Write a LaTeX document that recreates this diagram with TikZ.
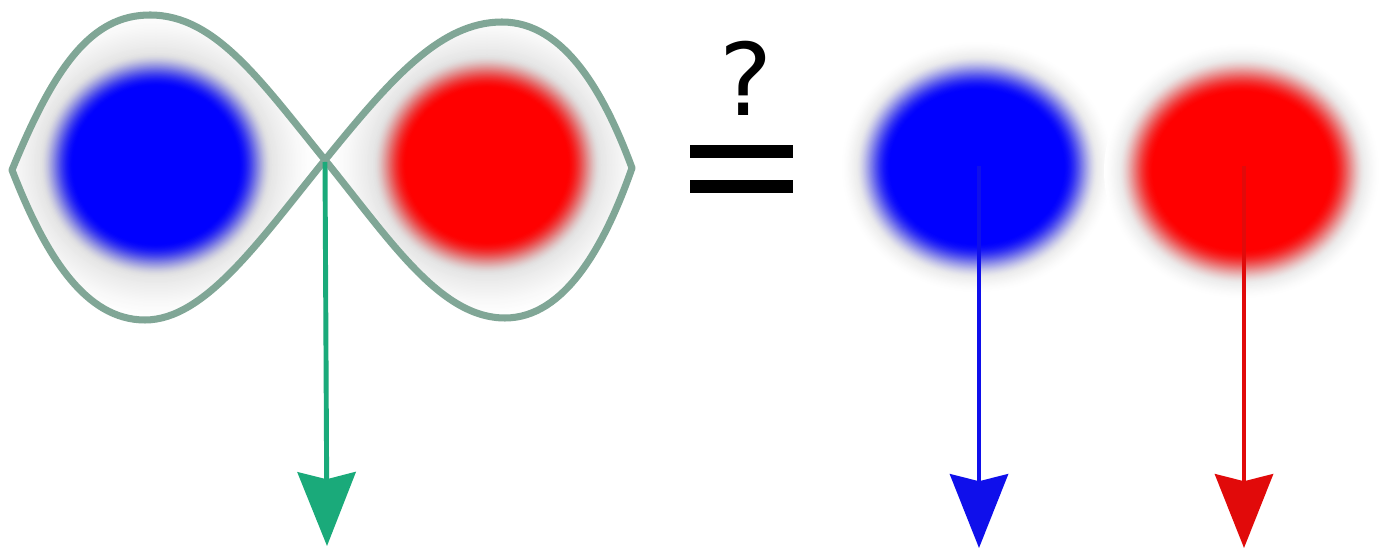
\documentclass[tikz,border=0pt]{standalone}
\usepackage{fontspec}
\newfontfamily\qfont{DejaVu Sans}
\usetikzlibrary{arrows.meta}
\definecolor{lensgreen}{RGB}{128,166,150}
\definecolor{arrgreen}{RGB}{26,170,122}
\definecolor{stemblue}{RGB}{15,15,235}
\definecolor{stemred}{RGB}{225,10,10}
\tikzset{
  lens/.style={draw=lensgreen, line width=4pt, line join=round},
  vecarrow/.style={line width=2.8pt, -{Stealth[length=42pt, width=33pt, inset=4pt]}},
  eqbar/.style={fill=black, draw=none}
}
% #1 x, #2 y, #3 rx solid, #4 ry solid, #5 blur width, #6 tail width, #7 colour, #8 tail grey
\newcommand\blurblob[8]{%
  \foreach \i in {0,...,30}{%
    \pgfmathsetmacro\rr{#6*(1-\i/30)}%
    \pgfmathsetmacro\g{#8*(\i/30)^1.5}%
    \fill[gray!\g!white] (#1,#2) ellipse[x radius=#3+#5+\rr, y radius=#4+#5+\rr];
  }%
  \foreach \i in {0,...,50}{%
    \pgfmathsetmacro\t{\i/50}%
    \pgfmathsetmacro\s{\t*\t*(3-2*\t)}%
    \pgfmathsetmacro\rr{#5*(1-\t)}%
    \pgfmathsetmacro\q{100*(1-\s)}%
    \pgfmathsetmacro\g{#8+35*\t}%
    \fill[gray!\g!white!\q!#7] (#1,#2) ellipse[x radius=#3+\rr, y radius=#4+\rr];
  }%
  \fill[#7] (#1,#2) ellipse[x radius=#3, y radius=#4];
}
\def\lensoutline{(12,170) .. controls (55,65) and (92,15) .. (150,15) .. controls (215,15) and (260,80) .. (325,160) .. controls (390,80) and (440,22) .. (502,22) .. controls (565,22) and (605,95) .. (632,168) .. controls (605,245) and (565,318) .. (505,318) .. controls (440,318) and (390,240) .. (325,160) .. controls (260,240) and (205,320) .. (145,320) .. controls (85,320) and (45,255) .. (12,170) -- cycle}
\begin{document}
\begin{tikzpicture}[x=0.02cm, y=-0.02cm]
\useasboundingbox[fill=white] (0,0) rectangle (1389,553);
% left entangled pair
\begin{scope}
  \clip \lensoutline;
  \blurblob{156}{165}{82}{78}{34}{45}{blue}{20}
  \blurblob{487}{165}{80}{76}{34}{45}{red}{20}
\end{scope}
\draw[lens] \lensoutline;
\coordinate (cross) at (325,162);
\coordinate (gtip) at (327,546);
\draw[vecarrow, arrgreen] (cross) -- (gtip);
% question and equals
\node[font=\qfont\fontsize{57}{60}\selectfont, anchor=base, inner sep=0pt] (q) at (746,116) {?};
\fill[eqbar] (690,145) rectangle (793,158);
\fill[eqbar] (690,180) rectangle (793,193);
% right separate particles
\blurblob{977}{167}{86}{76}{36}{14}{blue}{12}
\blurblob{1242}{171}{88}{78}{36}{14}{red}{12}
\coordinate (bs) at (979,166);
\coordinate (btip) at (979,548);
\coordinate (rs) at (1244,166);
\coordinate (rtip) at (1244,548);
\draw[vecarrow, stemblue] (bs) -- (btip);
\draw[vecarrow, stemred] (rs) -- (rtip);
\end{tikzpicture}
\end{document}
